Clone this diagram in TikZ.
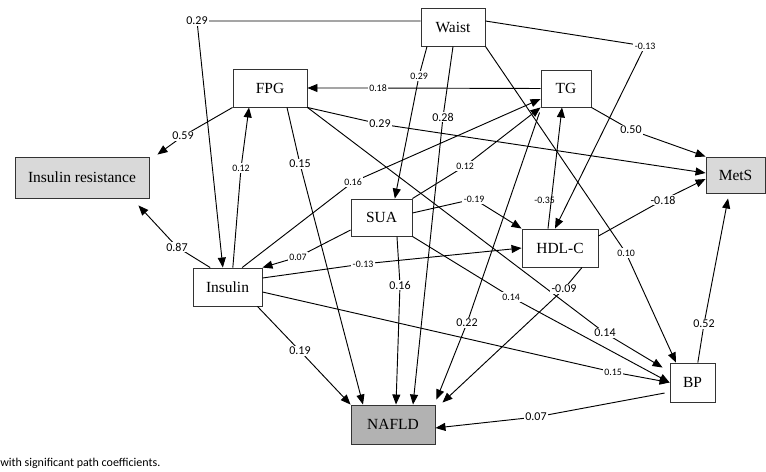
\documentclass[tikz,border=0pt]{standalone}
\usepackage{fontspec}
\setmainfont{Liberation Serif}
\newfontfamily\boxfont{Liberation Serif}
\newfontfamily\coeffont{Carlito}
\usetikzlibrary{arrows.meta}

\begin{document}
\begin{tikzpicture}[x=0.75pt, y=-0.75pt,
        var/.style={draw=black!80, fill=white, line width=0.7pt, inner sep=0pt, font=\boxfont\fontsize{11.6}{13}\selectfont},
        outcome/.style={var, fill=black!15},
        nafld_box/.style={var, fill=black!30},
        path_arrow/.style={-{Triangle[length=7.5pt,width=6pt]}, line width=0.7pt},
        coef/.style={fill=white, inner sep=1pt, font=\coeffont\fontsize{9}{10}\selectfont},
        coef_small/.style={coef, font=\coeffont\fontsize{7.4}{8}\selectfont}
    ]
    \useasboundingbox (0,0) rectangle (766,471);

    % Variabili
    \node[var, minimum width=48pt, minimum height=28.5pt] (waist) at (453,27) {Waist};
    \node[var, minimum width=55.5pt, minimum height=28.5pt] (fpg) at (270,88) {FPG};
    \node[var, minimum width=37.5pt, minimum height=27.75pt] (tg) at (566,88.5) {TG};
    \node[outcome, minimum width=44.25pt, minimum height=27pt] (mets) at (735.5,175) {MetS};
    \node[outcome, minimum width=100.5pt, minimum height=30.75pt] (insres) at (82,177.5) {Insulin resistance};
    \node[var, minimum width=45.75pt, minimum height=27.75pt] (sua) at (381.5,217.5) {SUA};
    \node[var, minimum width=51.75pt, minimum height=28.5pt] (insulin) at (227.5,287) {Insulin};
    \node[var, minimum width=57pt, minimum height=28.5pt] (hdlc) at (560,248) {HDL-C};
    \node[var, minimum width=33.75pt, minimum height=29.25pt] (bp) at (692.5,382.5) {BP};
    \node[nafld_box, minimum width=63pt, minimum height=29.25pt] (nafld) at (393,424.5) {NAFLD};

    % Waist
    \draw[path_arrow] ([yshift=4.5pt]waist.west) -- (197,21) node[coef] {0.29} -- ([xshift=-3.5pt]insulin.north);
    \draw[path_arrow] ([xshift=-19.5pt]waist.south) -- (419,76) node[coef_small] {0.29} -- ([xshift=10pt]sua.north);
    \draw[path_arrow] (waist.south) -- (443,117) node[coef] {0.28} -- ([xshift=15pt]nafld.north);
    \draw[path_arrow] (waist.south east) -- (626,253) node[coef_small] {0.10} -- ([xshift=-12.4pt]bp.north);
    \draw[path_arrow] ([yshift=4.5pt]waist.east) -- (645,46) node[coef_small] {-0.13} -- ([xshift=-3.75pt]hdlc.north);

    % FPG
    \draw[path_arrow] (tg.west) -- (378,88) node[coef_small] {0.18} -- (fpg.east);
    \draw[path_arrow] (fpg.south east) -- (380,124) node[coef] {0.29} -- ([yshift=1.5pt]mets.west);
    \draw[path_arrow] (fpg.south west) -- (183,136) node[coef] {0.59} -- ([xshift=6pt,yshift=1.5pt]insres.north east);
    \draw[path_arrow] ([xshift=4pt]insulin.north) -- (241,168) node[coef_small] {0.12} -- ([xshift=-15.75pt]fpg.south);
    \draw[path_arrow] ([xshift=12.75pt]fpg.south) -- (300,164) node[coef] {0.15} -- ([xshift=-22.5pt]nafld.north);
    \draw[path_arrow] (fpg.south east) -- (605,333) node[coef] {0.14} -- ([xshift=-5.25pt,yshift=-3.75pt]bp.north west);

    % TG, HDL-C, BP -> MetS
    \draw[path_arrow] (tg.south east) -- (631,130) node[coef] {0.50} -- (mets.north west);
    \draw[path_arrow] ([yshift=9pt]hdlc.east) -- (663,200) node[coef] {-0.18} -- ([yshift=-3pt]mets.west);
    \draw[path_arrow] ([xshift=4pt]bp.north) -- (704,324) node[coef] {0.52} -- ([xshift=-5.6pt,yshift=-3.75pt]mets.south);
    \draw[path_arrow] ([xshift=-9pt]hdlc.north) -- node[coef_small, fill=none, pos=0.23, xshift=-5pt] {-0.35} ([xshift=-3pt]tg.south);

    % SUA, Insulin
    \draw[path_arrow] ([xshift=11pt]insulin.north) -- (353,182) node[coef_small] {0.16} -- ([yshift=-7.9pt]tg.west);
    \draw[path_arrow] (sua.north east) -- (465,166) node[coef_small] {0.12} -- (tg.south west);
    \draw[path_arrow] ([yshift=3.4pt]sua.east) -- (474,199) node[coef_small] {-0.19} -- (hdlc.north west);
    \draw[path_arrow] ([yshift=6.75pt]insulin.east) -- (363,264) node[coef_small] {-0.13} -- (hdlc.west);
    \draw[path_arrow] ([yshift=-9.4pt]sua.west) -- (298,257) node[coef_small] {0.07} -- (insulin.north east);
    \draw[path_arrow] (sua.south east) -- (511,297) node[coef_small] {0.14} -- (bp.west);
    \draw[path_arrow] ([yshift=-3.75pt]insulin.east) -- (613,372) node[coef_small] {0.15} -- (bp.west);
    \draw[path_arrow] ([xshift=-13pt]insulin.north) -- (177,247) node[coef] {0.87} -- ([xshift=-8.25pt,yshift=-5.25pt]insres.south east);

    % NAFLD
    \draw[path_arrow] ([xshift=-3.75pt]insulin.south east) -- (300,351) node[coef] {0.19} -- (nafld.north west);
    \draw[path_arrow] ([xshift=11.6pt]sua.south) -- (400,285) node[coef] {0.16} -- ([xshift=2.25pt]nafld.north);
    \draw[path_arrow] ([xshift=-0.75pt,yshift=-3.75pt]tg.south west) -- (467,323) node[coef] {0.22} -- ([xshift=0.75pt,yshift=3.75pt]nafld.north east);
    \draw[path_arrow] ([xshift=16.5pt]hdlc.south) -- (564,289) node[coef] {-0.09} -- ([xshift=5.25pt,yshift=1.5pt]nafld.north east);
    \draw[path_arrow] ([xshift=-3.75pt,yshift=-7.9pt]bp.west) -- (536,417) node[coef] {0.07} -- ([yshift=-2.6pt]nafld.east);

    % Nota sotto
    \node[anchor=west, inner sep=0pt, font=\coeffont\fontsize{9}{10}\selectfont] (note) at (0,463) {with significant path coefficients.};
\end{tikzpicture}
\end{document}
